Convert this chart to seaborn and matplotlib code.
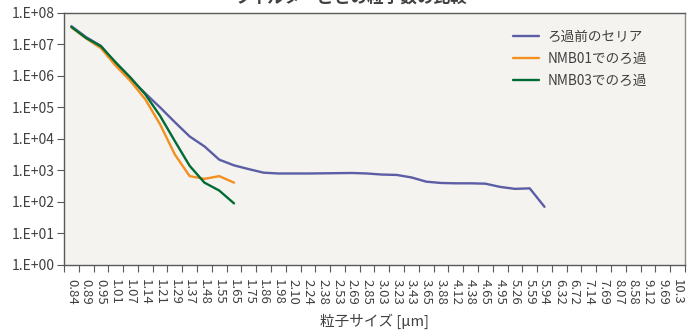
import matplotlib
matplotlib.use("Agg")
import matplotlib.pyplot as plt
import seaborn as sns
import pandas as pd
import numpy as np
from matplotlib.ticker import FixedLocator, NullFormatter

# Particle size bins [µm]
sizes = ["0.84", "0.89", "0.95", "1.01", "1.07", "1.14", "1.21", "1.29", "1.37", "1.48",
         "1.55", "1.65", "1.75", "1.86", "1.98", "2.10", "2.24", "2.38", "2.53", "2.69",
         "2.85", "3.03", "3.23", "3.43", "3.65", "3.88", "4.12", "4.38", "4.65", "4.95",
         "5.26", "5.59", "5.94", "6.32", "6.72", "7.14", "7.69", "8.07", "8.58", "9.12",
         "9.69", "10.3"]

# Particle counts per bin
before_filter = [3.8e7, 1.7e7, 9.0e6, 2.4e6, 8.0e5, 2.8e5, 1.0e5, 3.4e4, 1.2e4, 5.8e3,
                 2.2e3, 1.45e3, 1.1e3, 8.5e2, 8.0e2, 8.0e2, 8.0e2, 8.1e2, 8.2e2, 8.3e2,
                 8.0e2, 7.4e2, 7.2e2, 6.0e2, 4.4e2, 4.0e2, 3.9e2, 3.9e2, 3.8e2, 3.0e2,
                 2.6e2, 2.7e2, 7.0e1]
nmb01 = [3.5e7, 1.55e7, 7.6e6, 2.1e6, 6.9e5, 1.8e5, 2.9e4, 3.2e3, 6.6e2, 5.4e2, 6.6e2, 4.1e2]
nmb03 = [3.6e7, 1.6e7, 8.7e6, 2.7e6, 8.9e5, 2.6e5, 5.4e4, 8.5e3, 1.4e3, 4.1e2, 2.3e2, 9.0e1]

series_names = ["ろ過前のセリア", "NMB01でのろ過", "NMB03でのろ過"]
series_values = [before_filter, nmb01, nmb03]
colors = ["#5b5da5", "#f39020", "#006b35"]

rows = []
for name, vals in zip(series_names, series_values):
    for i, v in enumerate(vals):
        rows.append({"bin": i, "count": v, "series": name})
df = pd.DataFrame(rows)

sns.set_theme(style="white")
plt.rcParams["font.family"] = ["Noto Sans CJK JP", "DejaVu Sans"]

fig = plt.figure(figsize=(6.88, 3.32), dpi=100)
fig.patch.set_facecolor("white")
ax = fig.add_axes([0.093, 0.202, 0.9026, 0.759])
ax.set_facecolor("#f4f3ef")

sns.lineplot(data=df, x="bin", y="count", hue="series", hue_order=series_names,
             palette=colors, linewidth=1.7, sort=False, ax=ax)

ax.set_yscale("log")
ax.set_ylim(1, 1e8)
ax.set_xlim(-0.5, len(sizes) - 0.5)

yt = [10.0 ** k for k in range(0, 9)]
ax.yaxis.set_major_locator(FixedLocator(yt))
ax.yaxis.set_minor_formatter(NullFormatter())
ax.yaxis.set_minor_locator(FixedLocator([]))
ax.set_yticklabels([f"1.E+{k:02d}" for k in range(0, 9)], fontsize=10, color="#404040")

# category labels at bin centres, tick marks at bin edges
ax.set_xticks(np.arange(len(sizes)))
ax.set_xticklabels(sizes, rotation=-90, fontsize=9.5, color="#404040", va="top")
ax.tick_params(axis="x", which="major", length=0, pad=10)
ax.xaxis.set_minor_locator(FixedLocator(np.arange(len(sizes) + 1) - 0.5))
ax.tick_params(axis="x", which="minor", length=5, width=0.8, color="#595959", direction="out")
ax.tick_params(axis="y", which="major", length=5, width=0.8, color="#595959", direction="out", pad=2)
ax.tick_params(left=True, bottom=True)
ax.xaxis.set_tick_params(which="minor", bottom=True)

for s in ax.spines.values():
    s.set_color("#595959")
    s.set_linewidth(1.0)
ax.spines["right"].set_color("#8c8c8c")

ax.set_xlabel("粒子サイズ [μm]", fontsize=10.5, color="#404040", labelpad=6)
ax.set_ylabel("")

leg = ax.legend(loc="upper left", bbox_to_anchor=(0.715, 0.955), frameon=False,
                fontsize=9.8, handlelength=1.9, handletextpad=0.6, labelspacing=0.6,
                borderaxespad=0)
for t in leg.get_texts():
    t.set_color("#404040")

fig.text(0.51, 0.978, "フィルターごとの粒子数の比較", ha="center", va="bottom",
         fontsize=12, fontweight="bold", color="#404040")

fig.savefig("out.png", dpi=100, facecolor="white")
